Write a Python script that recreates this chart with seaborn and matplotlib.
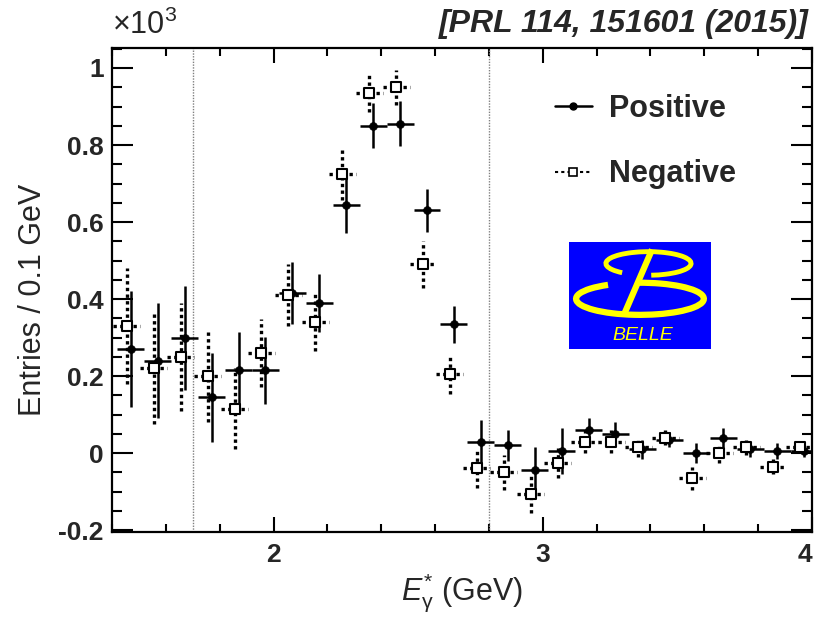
import numpy as np
import pandas as pd
import matplotlib
matplotlib.use("Agg")
import matplotlib.pyplot as plt
import seaborn as sns
from matplotlib.patches import Arc
from matplotlib.lines import Line2D
from matplotlib.ticker import MultipleLocator
from matplotlib import font_manager as fm

# ---------------- data (units of 10^3 entries) ----------------
bin_centers = [1.45, 1.55, 1.65, 1.75, 1.85, 1.95, 2.05, 2.15, 2.25, 2.35,
               2.45, 2.55, 2.65, 2.75, 2.85, 2.95, 3.05, 3.15, 3.25, 3.35,
               3.45, 3.55, 3.65, 3.75, 3.85, 3.95]
pos_entries = [0.270, 0.240, 0.300, 0.145, 0.215, 0.215, 0.415, 0.390, 0.645, 0.850,
               0.855, 0.630, 0.335, 0.030, 0.020, -0.045, 0.005, 0.060, 0.050, 0.010,
               0.035, 0.000, 0.040, 0.010, 0.005, 0.005]
pos_errors = [0.150, 0.150, 0.135, 0.115, 0.100, 0.087, 0.080, 0.075, 0.074, 0.058,
              0.058, 0.055, 0.048, 0.055, 0.040, 0.060, 0.060, 0.030, 0.030, 0.025,
              0.020, 0.025, 0.025, 0.020, 0.020, 0.015]
neg_entries = [0.330, 0.220, 0.250, 0.200, 0.115, 0.260, 0.410, 0.340, 0.725, 0.935,
               0.950, 0.490, 0.205, -0.040, -0.050, -0.105, -0.025, 0.030, 0.030, 0.015,
               0.040, -0.065, 0.000, 0.015, -0.035, 0.015]
neg_errors = [0.150, 0.145, 0.140, 0.120, 0.105, 0.088, 0.080, 0.075, 0.068, 0.050,
              0.045, 0.062, 0.052, 0.050, 0.045, 0.050, 0.040, 0.030, 0.030, 0.025,
              0.020, 0.030, 0.025, 0.020, 0.020, 0.015]
series_labels = ["Positive", "Negative"]
x_ticks = [2, 3, 4]
y_ticks = [-0.2, 0, 0.2, 0.4, 0.6, 0.8, 1.0]
cut_lines = [1.7, 2.8]
bin_half_width = 0.05

# ---------------- style ----------------
sns.set_theme(style="ticks")
plt.rcParams["font.family"] = ["Liberation Sans", "DejaVu Sans"]
plt.rcParams["mathtext.fontset"] = "custom"
plt.rcParams["mathtext.rm"] = "Liberation Sans"
plt.rcParams["mathtext.it"] = "Liberation Sans:italic"
plt.rcParams["mathtext.bf"] = "Liberation Sans:bold"

avail = {f.name for f in fm.fontManager.ttflist}
title_family = "Liberation Sans Narrow" if "Liberation Sans Narrow" in avail else "Liberation Sans"

df = pd.DataFrame({
    "E": bin_centers * 2,
    "entries": pos_entries + neg_entries,
    "err": pos_errors + neg_errors,
    "charge": [series_labels[0]] * len(bin_centers) + [series_labels[1]] * len(bin_centers),
})
offsets = {"Positive": 0.02, "Negative": 0.005}
df["xpos"] = df["E"] + df["charge"].map(offsets)
pos = df[df.charge == "Positive"]
neg = df[df.charge == "Negative"]

fig = plt.figure(figsize=(8.14, 6.19), dpi=100)
ax = fig.add_axes([0.1376, 0.1405, 0.86, 0.782])

for xv in cut_lines:
    ax.axvline(xv, color="grey", ls=(0, (1, 1)), lw=1.0, zorder=1)

eb_p = ax.errorbar(pos["xpos"], pos["entries"], yerr=pos["err"], xerr=bin_half_width,
                   fmt="none", ecolor="black", elinewidth=1.8, capsize=0, zorder=3)
eb_n = ax.errorbar(neg["xpos"], neg["entries"], yerr=neg["err"], xerr=bin_half_width,
                   fmt="none", ecolor="black", elinewidth=2.4, capsize=0, zorder=3)
for lc in eb_n[2]:
    lc.set_linestyle((0, (1, 1)))

sns.scatterplot(data=pos, x="xpos", y="entries", marker="o", s=32, color="black",
                edgecolor="black", linewidth=0.5, ax=ax, legend=False, zorder=5)
sns.scatterplot(data=neg, x="xpos", y="entries", marker="s", s=55, facecolor="white",
                edgecolor="black", linewidth=1.5, ax=ax, legend=False, zorder=6)

ax.set_xlim(1.4, 4.0)
ax.set_ylim(-0.205, 1.052)
ax.set_xticks(x_ticks)
xtl = ax.set_xticklabels([f"{t:g}" for t in x_ticks], fontsize=19, fontweight="bold")
xtl[-1].set_horizontalalignment("right")
ax.set_yticks(y_ticks)
ax.set_yticklabels([f"{t:g}" for t in y_ticks], fontsize=19, fontweight="bold")
ax.xaxis.set_minor_locator(MultipleLocator(0.2))
ax.yaxis.set_minor_locator(MultipleLocator(0.05))
ax.tick_params(which="both", direction="in", top=True, right=True, width=1.5, color="black")
ax.tick_params(axis="x", which="major", length=10.5, pad=8)
ax.tick_params(axis="x", which="minor", length=5.5)
ax.tick_params(axis="y", which="major", length=15, pad=6)
ax.tick_params(axis="y", which="minor", length=7.5)
for s in ax.spines.values():
    s.set_linewidth(1.6)
    s.set_color("black")
ax.set_xlabel(r"$E^{*}_{\mathregular{\gamma}}$ (GeV)", fontsize=22, labelpad=3)
ax.set_ylabel("Entries / 0.1 GeV", fontsize=22)
ax.yaxis.set_label_coords(-0.092, 0.48)

handles = [
    Line2D([], [], color="black", lw=1.8, marker="o", markersize=5),
    Line2D([], [], color="black", lw=1.5, ls=(0, (1.5, 1.5)), marker="s", markersize=6,
           markerfacecolor="white", markeredgewidth=1.2),
]
leg = ax.legend(handles, series_labels, loc="upper left", bbox_to_anchor=(0.682, 0.848),
                bbox_transform=fig.transFigure, frameon=False, borderpad=0, borderaxespad=0,
                handlelength=1.2, handletextpad=0.55, labelspacing=1.15,
                prop={"size": 22, "weight": "bold"})

# titles
fig.text(0.993, 0.962, "[PRL 114, 151601 (2015)]", ha="right", va="center", fontsize=23,
         fontweight="bold", style="italic", family=title_family)
fig.text(0.1376, 0.945, r"$\mathregular{\times10^{3}}$", ha="left", va="baseline", fontsize=22)

# Belle logo
lax = fig.add_axes([0.699, 0.436, 0.1744, 0.173])
lax.set_xlim(0, 1)
lax.set_ylim(0, 1)
lax.set_facecolor("#0000ff")
for s in lax.spines.values():
    s.set_visible(False)
lax.set_xticks([])
lax.set_yticks([])
yel = "#ffff00"
lax.add_patch(Arc((0.56, 0.80), 0.60, 0.22, theta1=-80, theta2=205, color=yel, lw=3.5))
lax.add_patch(Arc((0.50, 0.47), 0.90, 0.30, theta1=150, theta2=455, color=yel, lw=4.5))
lax.plot([0.585, 0.39], [0.93, 0.33], color=yel, lw=4.5, solid_capstyle="butt")
lax.text(0.52, 0.13, "BELLE", color=yel, fontsize=14, style="italic", ha="center", va="center")

fig.savefig("out.png", dpi=100)
